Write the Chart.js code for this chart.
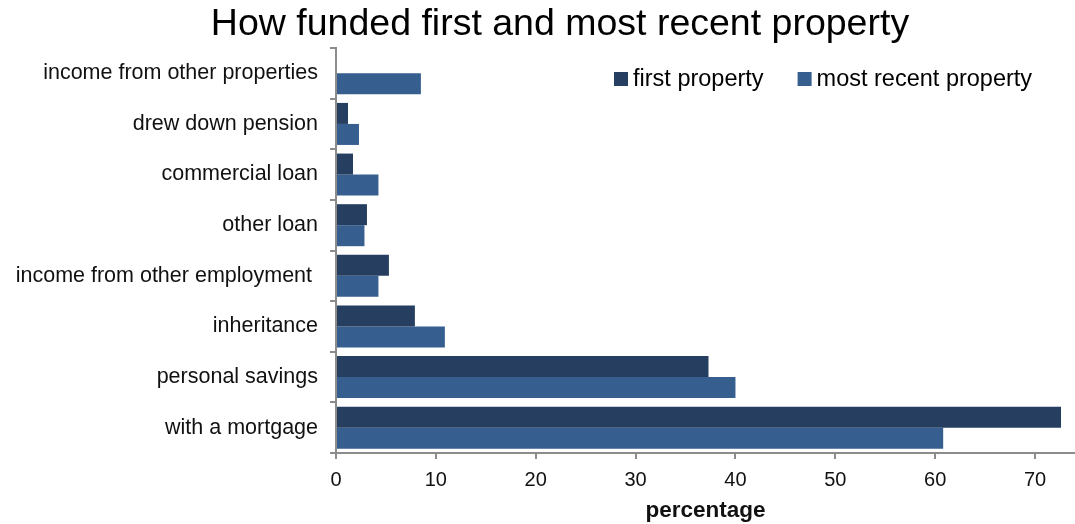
<!DOCTYPE html>
<html lang="en">
<head>
    <meta charset="UTF-8">
    <title>How funded first and most recent property</title>
    <script src="https://cdn.jsdelivr.net/npm/chart.js"></script>
    <style>
        html, body {
            margin: 0;
            padding: 0;
            background: #ffffff;
        }
        #chartContainer {
            width: 1075px;
            height: 524px;
            position: relative;
        }
    </style>
</head>
<body>
    <div id="chartContainer">
        <canvas id="fundingChart"></canvas>
    </div>

    <script>
        // Funding sources, top to bottom
        const sources = [
            'income from other properties',
            'drew down pension',
            'commercial loan',
            'other loan',
            'income from other employment ',
            'inheritance',
            'personal savings',
            'with a mortgage'
        ];

        // Percentage of landlords using each source
        const firstProperty = [0, 1.2, 1.7, 3.1, 5.3, 7.9, 37.3, 72.6];
        const mostRecentProperty = [8.5, 2.3, 4.25, 2.85, 4.25, 10.9, 40.0, 60.8];

        const seriesNames = ['first property', 'most recent property'];
        const xTicks = [0, 10, 20, 30, 40, 50, 60, 70];

        const FONT = '"Liberation Sans", Arial, sans-serif';
        const AXIS_GREY = '#8c8c8c';

        // Title and in-plot legend, drawn on top of the chart
        const overlayPlugin = {
            id: 'overlay',
            afterDraw(chart) {
                const ctx = chart.ctx;
                const area = chart.chartArea;
                ctx.save();
                ctx.fillStyle = '#000';
                ctx.font = '37.5px ' + FONT;
                ctx.textAlign = 'center';
                ctx.textBaseline = 'alphabetic';
                ctx.fillText('How funded first and most recent property', 560, 35);

                // legend
                ctx.font = '23.5px ' + FONT;
                ctx.textAlign = 'left';
                ctx.textBaseline = 'middle';
                const y = area.top + 31;
                let x = 614;
                chart.data.datasets.forEach((ds, i) => {
                    ctx.fillStyle = ds.backgroundColor;
                    ctx.fillRect(x, y - 7, 14, 14);
                    ctx.fillStyle = '#000';
                    ctx.fillText(ds.label, x + 19, y + 1);
                    x += 19 + ctx.measureText(ds.label).width + 34;
                });
                ctx.restore();
            }
        };

        const ctx = document.getElementById('fundingChart').getContext('2d');
        new Chart(ctx, {
            type: 'bar',
            data: {
                labels: sources,
                datasets: [{
                    label: seriesNames[0],
                    data: firstProperty,
                    backgroundColor: '#263f60',
                    borderWidth: 0
                }, {
                    label: seriesNames[1],
                    data: mostRecentProperty,
                    backgroundColor: '#365f90',
                    borderWidth: 0
                }]
            },
            options: {
                indexAxis: 'y',
                responsive: true,
                maintainAspectRatio: false,
                animation: false,
                datasets: {
                    bar: {
                        categoryPercentage: 0.83,
                        barPercentage: 1.0
                    }
                },
                layout: {
                    padding: { top: 48, right: 0, left: 0, bottom: 0 }
                },
                scales: {
                    x: {
                        min: 0,
                        max: 74,
                        afterBuildTicks(scale) {
                            scale.ticks = xTicks.map(v => ({ value: v }));
                        },
                        afterFit(scale) {
                            scale.height = 71;
                        },
                        border: { display: true, color: AXIS_GREY, width: 2 },
                        grid: {
                            display: true,
                            drawOnChartArea: false,
                            drawTicks: true,
                            tickLength: 6,
                            tickColor: AXIS_GREY,
                            lineWidth: 2
                        },
                        ticks: {
                            color: '#111',
                            font: { family: FONT, size: 20 },
                            padding: 9
                        },
                        title: {
                            display: true,
                            text: 'percentage',
                            color: '#111',
                            font: { family: FONT, size: 22.5, weight: 'bold' },
                            padding: { top: 0, bottom: 0 }
                        }
                    },
                    y: {
                        afterFit(scale) {
                            scale.width = 336;
                        },
                        border: { display: true, color: AXIS_GREY, width: 2 },
                        grid: {
                            display: true,
                            offset: true,
                            drawOnChartArea: false,
                            drawTicks: true,
                            tickLength: 6,
                            tickColor: AXIS_GREY,
                            lineWidth: 2
                        },
                        ticks: {
                            color: '#111',
                            font: { family: FONT, size: 21.5 },
                            padding: 12,
                            autoSkip: false
                        }
                    }
                },
                plugins: {
                    legend: { display: false },
                    title: { display: false },
                    tooltip: { enabled: false }
                }
            },
            plugins: [overlayPlugin]
        });
    </script>
</body>
</html>
